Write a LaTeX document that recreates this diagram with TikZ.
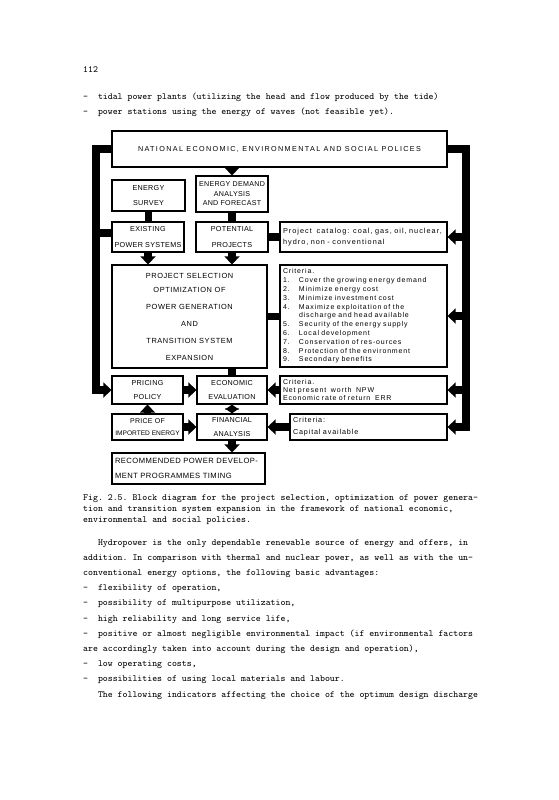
\documentclass[tikz,border=0pt]{standalone}
\usepackage{fontspec}
\usepackage{tikz}
\usetikzlibrary{arrows.meta}
\newfontfamily\boxfont[LetterSpace=4]{Liberation Sans}
\newfontfamily\notefont[LetterSpace=12]{Liberation Sans}
\newfontfamily\widefont[LetterSpace=19]{Liberation Sans}
\newcommand{\critem}[2]{\makebox[16pt][l]{#1}#2}

\begin{document}
\begin{tikzpicture}[x=1pt,y=1pt,yscale=-1,xscale=1,
  blk/.style={draw,line width=1.2pt,inner sep=0pt,align=center,font={\boxfont\fontsize{7.2}{8.6}\selectfont}},
  notebox/.style={draw,line width=1.2pt,inner xsep=3pt,inner ysep=0pt,align=left,font={\notefont\fontsize{7}{8.5}\selectfont\frenchspacing}},
  barline/.style={line width=7.5pt},
  bararrow/.style={line width=7.5pt,-{Triangle[width=15pt,length=8pt]}},
  dblarrow/.style={line width=7pt,{Triangle[width=14pt,length=5pt]}-{Triangle[width=14pt,length=5pt]}},
  bodytext/.style={anchor=base west,inner sep=0pt,font={\fontsize{9.4}{11.5}\ttfamily\frenchspacing}}
]
%set page size and margins
\fill[white] (0,0) rectangle (558,800);
\useasboundingbox (0,0) rectangle (558,800);

% Text Node
\node[bodytext] (pageno) at (83,73) {112};
% Text Node
\node[bodytext] (tidal) at (83,99.5) {-\ \ tidal power plants (utilizing the head and flow produced by the tide)};
% Text Node
\node[bodytext] (waves) at (83,114.5) {-\ \ power stations using the energy of waves (not feasible yet).};

%Shape: Rectangle
\node[blk,minimum width=335,minimum height=36,font={\widefont\fontsize{7.2}{8.6}\selectfont}] (national) at (279.5,149) {NATIONAL ECONOMIC, ENVIRONMENTAL AND SOCIAL POLICES};
%Shape: Rectangle
\node[blk,minimum width=73,minimum height=31] (survey) at (148.5,195.5) {ENERGY\\[7pt]SURVEY};
%Shape: Rectangle
\node[blk,minimum width=72,minimum height=36,font={\boxfont\fontsize{7.1}{9.5}\selectfont}] (demand) at (232,194) {ENERGY DEMAND\\ANALYSIS\\AND FORECAST};
%Shape: Rectangle
\node[blk,minimum width=72,minimum height=30] (existing) at (148,237) {EXISTING\\[7pt]POWER SYSTEMS};
%Shape: Rectangle
\node[blk,minimum width=72,minimum height=30] (potential) at (232,237) {POTENTIAL\\[7pt]PROJECTS};
%Shape: Rectangle
\node[notebox,text width=161pt,minimum height=30,font={\notefont\fontsize{7.3}{11}\addfontfeature{LetterSpace=14}\selectfont}] (catalog) at (363.5,237) {Project\ \ catalog: coal, gas, oil, nuclear,\\hydro, non - conventional};

%Shape: Rectangle
\node[blk,minimum width=155,minimum height=103,font={\boxfont\fontsize{7.4}{8.8}\addfontfeature{LetterSpace=8}\selectfont}] (selection) at (189.5,316.5) {PROJECT SELECTION\\[6pt]OPTIMIZATION OF\\[8pt]POWER GENERATION\\[8pt]AND\\[8pt]TRANSITION SYSTEM\\[8pt]EXPANSION};
%Shape: Rectangle
\node[notebox,text width=161pt,minimum height=102,font={\notefont\fontsize{7}{8.8}\selectfont}] (criteria) at (363.5,316) {Criteria.\\
\critem{1.}{Cover the growing energy demand}\\
\critem{2.}{Minimize energy cost}\\
\critem{3.}{Minimize investment cost}\\
\critem{4.}{Maximize exploitation of the}\\
\critem{}{discharge and head available}\\
\critem{5.}{Security of the energy supply}\\
\critem{6.}{Local development}\\
\critem{7.}{Conservation of res-ources}\\
\critem{8.}{Protection of the environment}\\
\critem{9.}{Secondary benefits}};

%Shape: Rectangle
\node[blk,minimum width=71,minimum height=28] (pricing) at (147.5,390) {PRICING\\[6pt]POLICY};
%Shape: Rectangle
\node[blk,minimum width=70,minimum height=28] (economic) at (232,390) {ECONOMIC\\[6pt]EVALUATION};
%Shape: Rectangle
\node[notebox,text width=161pt,minimum height=28,font={\notefont\fontsize{7}{8.3}\selectfont}] (npw) at (363.5,390) {Criteria.\\Net present\ \ worth\ \ NPW\\Economic rate of return\ \ ERR};

%Shape: Rectangle
\node[blk,minimum width=71,minimum height=26,font={\boxfont\fontsize{7}{8.6}\selectfont}] (imported) at (147.5,427) {PRICE OF\\[3pt]{\addfontfeature{LetterSpace=0}\fontsize{6.6}{8}\selectfont IMPORTED ENERGY}};
%Shape: Rectangle
\node[blk,minimum width=70,minimum height=26] (financial) at (232,427) {FINANCIAL\\[5pt]ANALYSIS};
%Shape: Rectangle
\node[notebox,text width=151pt,minimum height=26,font={\notefont\fontsize{7.2}{12}\selectfont}] (capital) at (368.5,427) {Criteria:\\Capital available};

%Shape: Rectangle
\node[blk,align=left,inner xsep=3pt,text width=147pt,minimum height=31,font={\boxfont\fontsize{7.6}{8.8}\addfontfeature{LetterSpace=6}\selectfont}] (recommended) at (188.5,468.5) {RECOMMENDED POWER DEVELOP-\\[6pt]MENT PROGRAMMES TIMING};

%feedback bars
\coordinate (lbar) at (96,0);
\coordinate (rbar) at (466,0);
\draw[bararrow] (national.west) -- (national.west -| lbar) -- (pricing.west -| lbar) -- (pricing.west);
\draw[barline] ([yshift=-4pt]existing.west -| lbar) -- ([yshift=-4pt]existing.west);
\draw[bararrow] (national.east) -- (national.east -| rbar) -- (capital.east -| rbar) -- (capital.east);
\draw[bararrow] (catalog.east -| rbar) -- (catalog.east);
\draw[bararrow] (criteria.east -| rbar) -- (criteria.east);
\draw[bararrow] (npw.east -| rbar) -- (npw.east);

%Straight Lines
\draw[bararrow] (demand.north |- national.south) -- (demand.north);
\draw[barline] (survey.south) -- (survey.south |- existing.north);
\draw[barline] (demand.south) -- (potential.north);
\draw[barline] (potential.east) -- (catalog.west);
\draw[bararrow] (existing.south) -- (existing.south |- selection.north);
\draw[bararrow] (potential.south) -- (potential.south |- selection.north);
\draw[barline] (selection.east) -- (selection.east -| criteria.west);
\draw[barline] (economic.north |- selection.south) -- (economic.north);
\draw[bararrow] (pricing.east) -- (economic.west);
\draw[bararrow] (npw.west) -- (economic.east);
\draw[bararrow] (imported.north) -- (pricing.south);
\draw[dblarrow] (financial.north) -- (economic.south);
\draw[bararrow] (imported.east) -- (financial.west);
\draw[bararrow] (capital.west) -- (financial.east);
\draw[bararrow] (financial.south) -- (financial.south |- recommended.north);

% Text Node
\node[bodytext] (cap1) at (83,500.5) {Fig. 2.5. Block diagram for the project selection, optimization of power genera-};
% Text Node
\node[bodytext] (cap2) at (83,511.5) {tion and transition system expansion in the framework of national economic,};
% Text Node
\node[bodytext] (cap3) at (83,522.5) {environmental and social policies.};

% Text Node
\node[bodytext] (par1) at (83,545) {\ \ \ Hydropower is the only dependable renewable source of energy and offers, in};
% Text Node
\node[bodytext] (par2) at (83,560.2) {addition. In comparison with thermal and nuclear power, as well as with the un-};
% Text Node
\node[bodytext] (par3) at (83,575.4) {conventional energy options, the following basic advantages:};
% Text Node
\node[bodytext] (adv1) at (83,590.6) {-\ \ flexibility of operation,};
% Text Node
\node[bodytext] (adv2) at (83,605.8) {-\ \ possibility of multipurpose utilization,};
% Text Node
\node[bodytext] (adv3) at (83,621) {-\ \ high reliability and long service life,};
% Text Node
\node[bodytext] (adv4) at (83,636.2) {-\ \ positive or almost negligible environmental impact (if environmental factors};
% Text Node
\node[bodytext] (adv4b) at (83,651.4) {are accordingly taken into account during the design and operation),};
% Text Node
\node[bodytext] (adv5) at (83,666.6) {-\ \ low operating costs,};
% Text Node
\node[bodytext] (adv6) at (83,681.8) {-\ \ possibilities of using local materials and labour.};
% Text Node
\node[bodytext] (par4) at (83,697) {\ \ \ The following indicators affecting the choice of the optimum design discharge};

\end{tikzpicture}
\end{document}
